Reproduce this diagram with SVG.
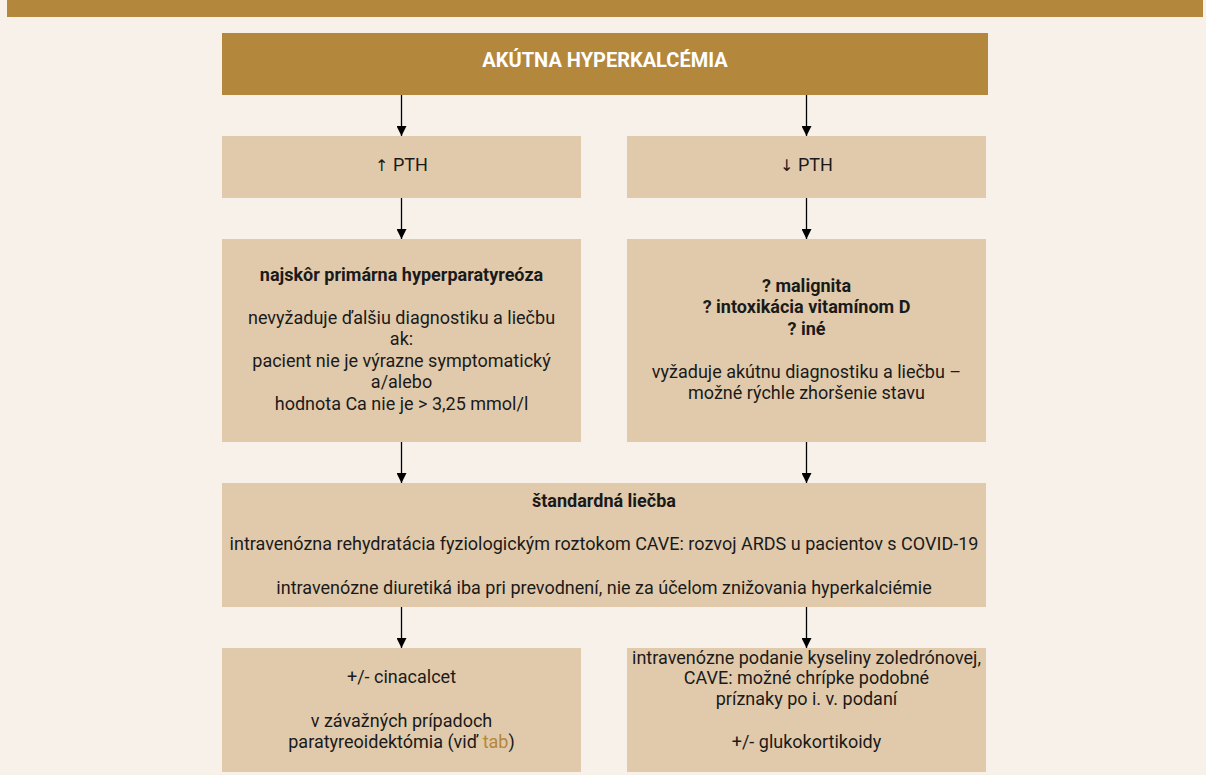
<svg xmlns="http://www.w3.org/2000/svg" width="1206" height="775" viewBox="0 0 1206 775">
<style>
.node{fill:#E1CAAB}
.t{font-family:Roboto,"Liberation Sans",sans-serif;font-size:18px;fill:#1a1a1a;text-anchor:middle}
.b{font-weight:bold}
.ar{font-family:"DejaVu Sans",sans-serif;font-size:16px;fill:#1a1a1a}
.title{font-family:Roboto,"Liberation Sans",sans-serif;font-size:20px;font-weight:bold;fill:#ffffff;text-anchor:middle}
.link{fill:#B3873C}
.edge{stroke:#000;stroke-width:1.3;fill:none;marker-end:url(#arr)}
</style>
<defs>
<marker id="arr" viewBox="0 0 10 10" refX="10" refY="5" markerWidth="10" markerHeight="10" markerUnits="userSpaceOnUse" orient="auto">
<path d="M0,0 L10,5 L0,10 Z" fill="#000"/>
</marker>
</defs>
<rect x="0" y="0" width="1206" height="775" fill="#F8F1EA"/>
<rect x="7" y="0" width="1196" height="17" fill="#B3873C"/>
<g id="title">
<rect x="222" y="33" width="766" height="62" fill="#B3873C"/>
<text class="title" x="605" y="67">AKÚTNA HYPERKALCÉMIA</text>
</g>
<g id="pth-up">
<rect class="node" x="222" y="136" width="359" height="62"/>
<text class="t" x="401.5" y="171"><tspan class="ar">↑</tspan> PTH</text>
</g>
<g id="pth-down">
<rect class="node" x="627" y="136" width="359" height="62"/>
<text class="t" x="806.5" y="171"><tspan class="ar">↓</tspan> PTH</text>
</g>
<g id="primary">
<rect class="node" x="222" y="239" width="359" height="203"/>
<text class="t b" x="401.5" y="281">najskôr primárna hyperparatyreóza</text>
<text class="t" x="401.5" y="323.5">nevyžaduje ďalšiu diagnostiku a liečbu</text>
<text class="t" x="401.5" y="345">ak:</text>
<text class="t" x="401.5" y="366.5">pacient nie je výrazne symptomatický</text>
<text class="t" x="401.5" y="388">a/alebo</text>
<text class="t" x="401.5" y="409.5">hodnota Ca nie je &gt; 3,25 mmol/l</text>
</g>
<g id="other">
<rect class="node" x="627" y="239" width="359" height="203"/>
<text class="t b" x="806.5" y="292">? malignita</text>
<text class="t b" x="806.5" y="313">? intoxikácia vitamínom D</text>
<text class="t b" x="806.5" y="334.5">? iné</text>
<text class="t" x="806.5" y="377.5">vyžaduje akútnu diagnostiku a liečbu –</text>
<text class="t" x="806.5" y="398.5">možné rýchle zhoršenie stavu</text>
</g>
<g id="standard">
<rect class="node" x="222" y="483" width="764" height="124"/>
<text class="t b" x="604" y="507">štandardná liečba</text>
<text class="t" x="604" y="550">intravenózna rehydratácia fyziologickým roztokom CAVE: rozvoj ARDS u pacientov s COVID-19</text>
<text class="t" x="604" y="593.5">intravenózne diuretiká iba pri prevodnení, nie za účelom znižovania hyperkalciémie</text>
</g>
<g id="cinacalcet">
<rect class="node" x="222" y="648" width="359" height="124"/>
<text class="t" x="401.5" y="683">+/- cinacalcet</text>
<text class="t" x="401.5" y="726.5">v závažných prípadoch</text>
<text class="t" x="401.5" y="747.5">paratyreoidektómia (viď <tspan class="link">tab</tspan>)</text>
</g>
<g id="zoledronic">
<rect class="node" x="627" y="648" width="359" height="124"/>
<text class="t" x="806.5" y="663.5">intravenózne podanie kyseliny zoledrónovej,</text>
<text class="t" x="806.5" y="684">CAVE: možné chrípke podobné</text>
<text class="t" x="806.5" y="705">príznaky po i. v. podaní</text>
<text class="t" x="806.5" y="748">+/- glukokortikoidy</text>
</g>
<g id="connectors">
<line class="edge" x1="401.5" y1="95" x2="401.5" y2="136"/>
<line class="edge" x1="806.5" y1="95" x2="806.5" y2="136"/>
<line class="edge" x1="401.5" y1="198" x2="401.5" y2="239"/>
<line class="edge" x1="806.5" y1="198" x2="806.5" y2="239"/>
<line class="edge" x1="401.5" y1="442" x2="401.5" y2="483"/>
<line class="edge" x1="806.5" y1="442" x2="806.5" y2="483"/>
<line class="edge" x1="401.5" y1="607" x2="401.5" y2="648"/>
<line class="edge" x1="806.5" y1="607" x2="806.5" y2="648"/>
</g>
</svg>
